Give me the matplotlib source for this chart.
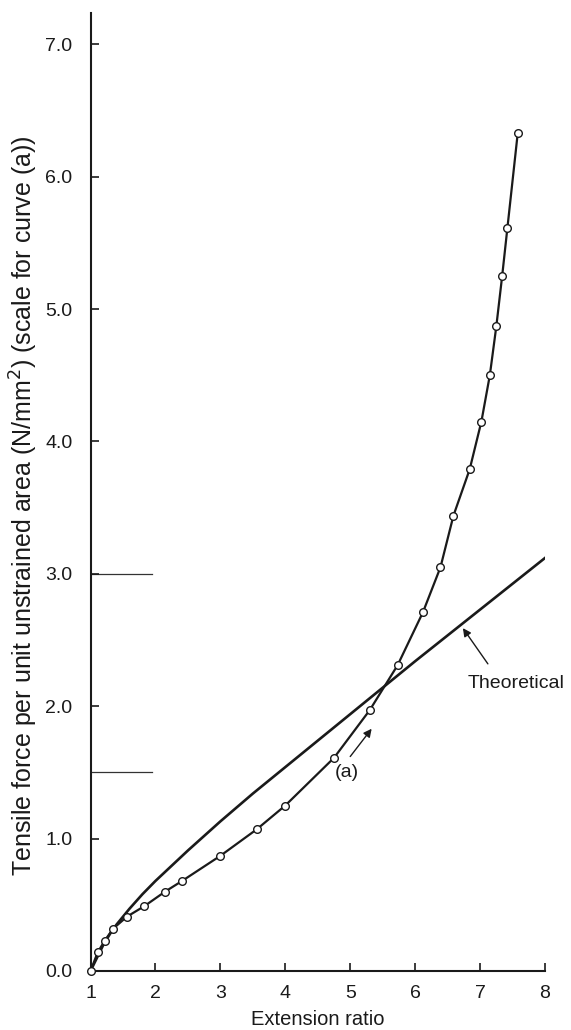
import matplotlib
matplotlib.use("Agg")
import matplotlib.pyplot as plt

plt.rcParams["font.family"] = ["Liberation Sans", "DejaVu Sans"]

# Curve (a) - measured points
ext_a = [1.00, 1.11, 1.22, 1.35, 1.56, 1.83, 2.15, 2.41, 3.00, 3.56, 4.00, 4.75,
         5.30, 5.73, 6.12, 6.39, 6.59, 6.84, 7.02, 7.15, 7.25, 7.34, 7.42, 7.58]
force_a = [0.00, 0.14, 0.23, 0.32, 0.41, 0.49, 0.60, 0.68, 0.87, 1.07, 1.25, 1.61,
           1.97, 2.31, 2.71, 3.05, 3.44, 3.79, 4.15, 4.50, 4.87, 5.25, 5.61, 6.33]

# Theoretical curve
ext_th = [1.00, 1.1, 1.2, 1.3, 1.4, 1.6, 1.8, 2.0, 2.5, 3.0, 3.5, 4.0, 5.0, 6.0, 7.0, 8.0]
force_th = [0.00, 0.10, 0.20, 0.28, 0.35, 0.47, 0.58, 0.68, 0.91, 1.13, 1.34, 1.54,
            1.94, 2.34, 2.73, 3.12]

xticks = [1, 2, 3, 4, 5, 6, 7, 8]
yticks = [0, 1, 2, 3, 4, 5, 6, 7]
stray_levels = [3.0, 1.5]

fig = plt.figure(figsize=(5.71, 10.30), dpi=100)
ax = fig.add_axes([0.1585, 0.0573, 0.796, 0.930])

ax.plot(ext_th, force_th, color="#1a1a1a", lw=1.9, zorder=2)
ax.plot(ext_a, force_a, color="#1a1a1a", lw=1.6, marker="o", ms=5.5,
        mfc="white", mec="#1a1a1a", mew=1.0, zorder=3, clip_on=False)

# short horizontal rules near the axis
for lv in stray_levels:
    ax.plot([1.0, 1.95], [lv, lv], color="#333333", lw=0.9, zorder=1)

# annotations
ax.annotate("", xy=(5.33, 1.83), xytext=(5.0, 1.62),
            arrowprops=dict(arrowstyle="-|>", color="#1a1a1a", lw=1.0,
                            mutation_scale=12, shrinkA=0, shrinkB=0))
ax.text(4.95, 1.50, "(a)", fontsize=14, ha="center", va="center", color="#1a1a1a")

ax.annotate("", xy=(6.735, 2.59), xytext=(7.12, 2.32),
            arrowprops=dict(arrowstyle="-|>", color="#1a1a1a", lw=1.0,
                            mutation_scale=12, shrinkA=0, shrinkB=0))
ax.text(7.56, 2.17, "Theoretical", fontsize=14, ha="center", va="center", color="#1a1a1a")

ax.set_xlim(1, 8)
ax.set_ylim(0, 7.236)
ax.set_xticks(xticks)
ax.set_xticklabels([str(v) for v in xticks])
ax.set_yticks(yticks)
ax.set_yticklabels([f"{v:.1f}" for v in yticks])

for s in ["top", "right"]:
    ax.spines[s].set_visible(False)
for s in ["left", "bottom"]:
    ax.spines[s].set_linewidth(1.5)
    ax.spines[s].set_color("#1a1a1a")

ax.tick_params(axis="both", direction="in", length=6, width=1.2, labelsize=14,
               colors="#1a1a1a")
ax.tick_params(axis="x", pad=10)
ax.tick_params(axis="y", pad=13)

ax.set_xlabel("Extension ratio", fontsize=14.5, color="#1a1a1a", labelpad=6)
ax.set_ylabel("Tensile force per unit unstrained area (N/mm$^2$) (scale for curve (a))",
              fontsize=18, color="#1a1a1a")
ax.yaxis.set_label_coords(-0.112, 0.486)

fig.savefig("out.png", dpi=100)
